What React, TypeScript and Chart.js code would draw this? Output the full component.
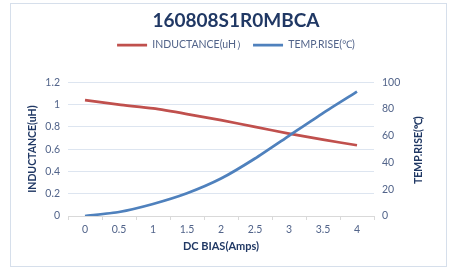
import React, { useEffect, useRef } from 'react';
import { Chart, registerables, layouts } from 'chart.js';

Chart.register(...registerables);

const TITLE = '160808S1R0MBCA';
const X_LABELS = ['0', '0.5', '1', '1.5', '2', '2.5', '3', '3.5', '4'];
const INDUCTANCE = [1.04, 1.0, 0.965, 0.915, 0.86, 0.8, 0.74, 0.685, 0.635];
const TEMP_RISE = [0, 3, 9, 17, 28, 43, 60, 77, 93];
const SERIES_NAMES = ['INDUCTANCE(uH）', 'TEMP.RISE(℃)'];
const X_TITLE = 'DC BIAS(Amps)';
const Y_LEFT_TITLE = 'INDUCTANCE(uH)';
const Y_RIGHT_TITLE = 'TEMP.RISE(℃)';

const FONT = 'Lato, "Liberation Sans", sans-serif';
const NAVY = '#203864';
const TICK = '#52648a';
const RED = '#C0504D';
const BLUE = '#4F81BD';

const spacerPlugin = {
  id: 'legendSpacer',
  beforeInit(chart: any) {
    const box: any = {
      position: 'top',
      weight: 500,
      fullSize: true,
      options: {},
      left: 0, top: 0, right: 0, bottom: 0, width: 0, height: 0,
      isHorizontal() { return true; },
      update(maxWidth: number) { this.width = maxWidth; this.height = 22; },
      draw() {},
    };
    layouts.addBox(chart, box);
  },
};

const decorPlugin = {
  id: 'decor',
  beforeDraw(chart: any) {
    const ctx = chart.ctx;
    ctx.save();
    ctx.fillStyle = '#ffffff';
    ctx.fillRect(0, 0, chart.width, chart.height);
    ctx.strokeStyle = '#d6dfeb';
    ctx.lineWidth = 1;
    ctx.strokeRect(10.5, 3.5, 436, 263);
    ctx.restore();
  },
  afterDraw(chart: any) {
    const ctx = chart.ctx;
    const s = chart.scales.y1;
    const area = chart.chartArea;
    ctx.save();
    ctx.translate(s.left + 45, (area.top + area.bottom) / 2 + 1);
    ctx.rotate(-Math.PI / 2);
    ctx.textAlign = 'center';
    ctx.textBaseline = 'middle';
    ctx.fillStyle = NAVY;
    ctx.font = `bold 10.5px ${FONT}`;
    ctx.fillText(Y_RIGHT_TITLE, 0, 0);
    ctx.restore();
  },
};

const fmt = (v: any) => String(Math.round(Number(v) * 10) / 10);

export default function App() {
  const ref = useRef<HTMLCanvasElement>(null);
  useEffect(() => {
    if (!ref.current) return;
    const chart = new Chart(ref.current, {
      type: 'line',
      data: {
        labels: X_LABELS,
        datasets: [
          {
            label: SERIES_NAMES[0],
            data: INDUCTANCE,
            borderColor: RED,
            backgroundColor: RED,
            borderWidth: 2.75,
            pointRadius: 0,
            tension: 0.2,
            yAxisID: 'y',
            order: 1,
          },
          {
            label: SERIES_NAMES[1],
            data: TEMP_RISE,
            borderColor: BLUE,
            backgroundColor: BLUE,
            borderWidth: 2.75,
            pointRadius: 0,
            tension: 0.2,
            yAxisID: 'y1',
            order: 0,
          },
        ],
      },
      options: {
        animation: false,
        responsive: false,
        layout: { padding: { left: 17, right: 0, top: 0, bottom: 0 } },
        plugins: {
          title: {
            display: true,
            text: TITLE,
            color: NAVY,
            font: { family: FONT, size: 19, weight: 'bold' },
            padding: { top: 9, bottom: 2 },
          },
          legend: {
            display: true,
            labels: {
              usePointStyle: true,
              pointStyle: 'line',
              pointStyleWidth: 30,
              boxHeight: 10,
              padding: 6,
              color: TICK,
              font: { family: FONT, size: 10.5 },
              sort: (a: any, b: any) => a.datasetIndex - b.datasetIndex,
            },
          },
          tooltip: { enabled: false },
        },
        scales: {
          x: {
            type: 'category',
            offset: true,
            grid: {
              display: true,
              drawOnChartArea: false,
              drawTicks: true,
              tickLength: 4,
              color: '#d9d9d9',
              offset: true,
            },
            border: { display: true, color: '#d9d9d9' },
            ticks: { color: TICK, padding: 3, font: { family: FONT, size: 10.5 }, maxRotation: 0 },
            title: {
              display: true,
              text: X_TITLE,
              color: NAVY,
              font: { family: FONT, size: 11, weight: 'bold' },
              padding: { top: 0, bottom: 15 },
            },
            afterFit: (s: any) => { s.height = 52; },
          },
          y: {
            position: 'left',
            min: 0,
            max: 1.2,
            ticks: { stepSize: 0.2, color: TICK, padding: 8, font: { family: FONT, size: 10.5 }, callback: fmt },
            grid: { color: '#dde5f0', drawTicks: false },
            border: { display: false },
            title: {
              display: true,
              text: Y_LEFT_TITLE,
              color: NAVY,
              font: { family: FONT, size: 10.5, weight: 'bold' },
              padding: { top: 9, bottom: 0 },
            },
            afterFit: (s: any) => { s.width = 51; },
          },
          y1: {
            position: 'right',
            min: 0,
            max: 100,
            ticks: { stepSize: 20, color: TICK, padding: 8, font: { family: FONT, size: 10.5 }, callback: fmt },
            grid: { display: false, drawTicks: false },
            border: { display: false },
            afterFit: (s: any) => { s.width = 81; },
          },
        },
      },
      plugins: [spacerPlugin, decorPlugin],
    } as any);
    return () => chart.destroy();
  }, []);
  return (
    <div style={{ position: 'absolute', left: 0, top: 0, width: 455, height: 268 }}>
      <canvas ref={ref} width={455} height={268} style={{ width: 455, height: 268 }} />
    </div>
  );
}
